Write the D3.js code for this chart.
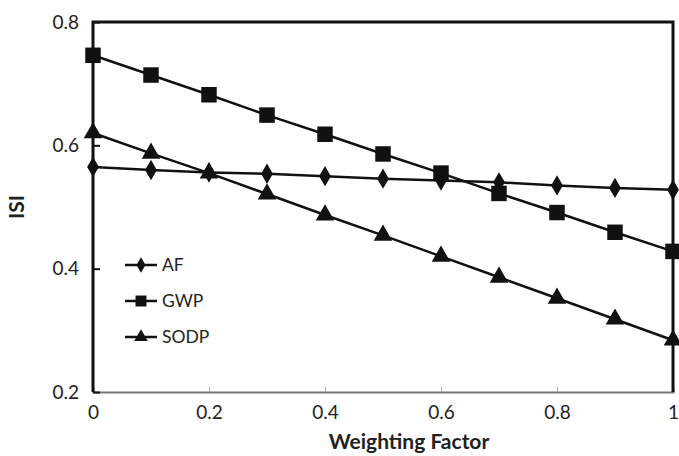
<!DOCTYPE html>
<html>
<head>
<meta charset="utf-8">
<script src="https://cdn.jsdelivr.net/npm/d3@7.9.0/dist/d3.min.js"></script>
<style>
  html, body { margin: 0; padding: 0; background: #fff; }
  text { font-family: Lato, "Open Sans", sans-serif; fill: #222; }
</style>
</head>
<body>
<svg id="chart" width="679" height="456"></svg>
<script>
const weights = [0, 0.1, 0.2, 0.3, 0.4, 0.5, 0.6, 0.7, 0.8, 0.9, 1];
const af = [0.565, 0.560, 0.556, 0.554, 0.550, 0.546, 0.543, 0.540, 0.535, 0.531, 0.528];
const gwp = [0.746, 0.714, 0.682, 0.649, 0.618, 0.586, 0.555, 0.522, 0.491, 0.459, 0.428];
const sodp = [0.620, 0.587, 0.555, 0.521, 0.487, 0.454, 0.420, 0.386, 0.352, 0.318, 0.284];
const xTicks = [0, 0.2, 0.4, 0.6, 0.8, 1];
const yTicks = [0.2, 0.4, 0.6, 0.8];

const series = [
  { name: "AF", values: af, symbol: d3.symbolDiamond, size: 120, legSize: 70 },
  { name: "GWP", values: gwp, symbol: d3.symbolSquare, size: 240, legSize: 120 },
  { name: "SODP", values: sodp, symbol: d3.symbolTriangle, size: 150, legSize: 80 },
];

const svg = d3.select("#chart");
const mLeft = 93, mRight = 673, mTop = 22, mBottom = 392;

const x = d3.scaleLinear().domain([0, 1]).range([mLeft, mRight]);
const y = d3.scaleLinear().domain([0.2, 0.8]).range([mBottom, mTop]);

// x axis: gray baseline, small ticks pointing up
const xAxis = svg.append("g")
  .attr("transform", `translate(0,${mBottom})`)
  .call(d3.axisBottom(x).tickValues(xTicks).tickSize(-5).tickPadding(14)
    .tickFormat(d => d === 0 || d === 1 ? d3.format("d")(d) : d3.format(".1f")(d)));
xAxis.select(".domain").attr("stroke", "#777").attr("stroke-width", 2);
xAxis.selectAll(".tick line").attr("stroke", "#aaa");
xAxis.selectAll(".tick text").style("font-size", "19px").attr("dy", "0.7em");

// y axis: black, ticks pointing inward
const yAxis = svg.append("g")
  .attr("transform", `translate(${mLeft},0)`)
  .call(d3.axisLeft(y).tickValues(yTicks).tickSize(-7).tickPadding(14)
    .tickFormat(d3.format(".1f")));
yAxis.select(".domain").remove();
yAxis.selectAll(".tick line").attr("stroke", "#111").attr("stroke-width", 2);
yAxis.selectAll(".tick text").style("font-size", "19px");

// frame (top, left, right)
svg.append("path")
  .attr("d", `M${mLeft},${mBottom}V${mTop}H${mRight}V${mBottom}`)
  .attr("fill", "none").attr("stroke", "#111").attr("stroke-width", 3);

const line = d3.line().x((d, i) => x(weights[i])).y(d => y(d));

series.forEach(s => {
  svg.append("path")
    .attr("d", line(s.values))
    .attr("fill", "none").attr("stroke", "#111").attr("stroke-width", 2.5);
  svg.append("g").selectAll("path")
    .data(s.values)
    .join("path")
    .attr("transform", (d, i) => `translate(${x(weights[i])},${y(d)})`)
    .attr("d", d3.symbol(s.symbol, s.size))
    .attr("fill", "#111");
});

// legend
const legend = svg.append("g").attr("transform", "translate(125,265)");
series.forEach((s, i) => {
  const g = legend.append("g").attr("transform", `translate(0,${i * 36})`);
  g.append("line").attr("x1", 0).attr("x2", 32).attr("stroke", "#111").attr("stroke-width", 2.5);
  g.append("path").attr("transform", "translate(16,0)")
    .attr("d", d3.symbol(s.symbol, s.legSize)).attr("fill", "#111");
  g.append("text").attr("x", 37).attr("dy", "0.36em").style("font-size", "17.5px").text(s.name);
});

// axis titles
svg.append("text")
  .attr("x", 409).attr("y", 449)
  .attr("text-anchor", "middle")
  .style("font-size", "21px").style("font-weight", "bold")
  .text("Weighting Factor");

svg.append("text")
  .attr("transform", `translate(24,${(mTop + mBottom) / 2}) rotate(-90)`)
  .attr("text-anchor", "middle")
  .style("font-size", "21px").style("font-weight", "bold")
  .text("ISI");
</script>
</body>
</html>
